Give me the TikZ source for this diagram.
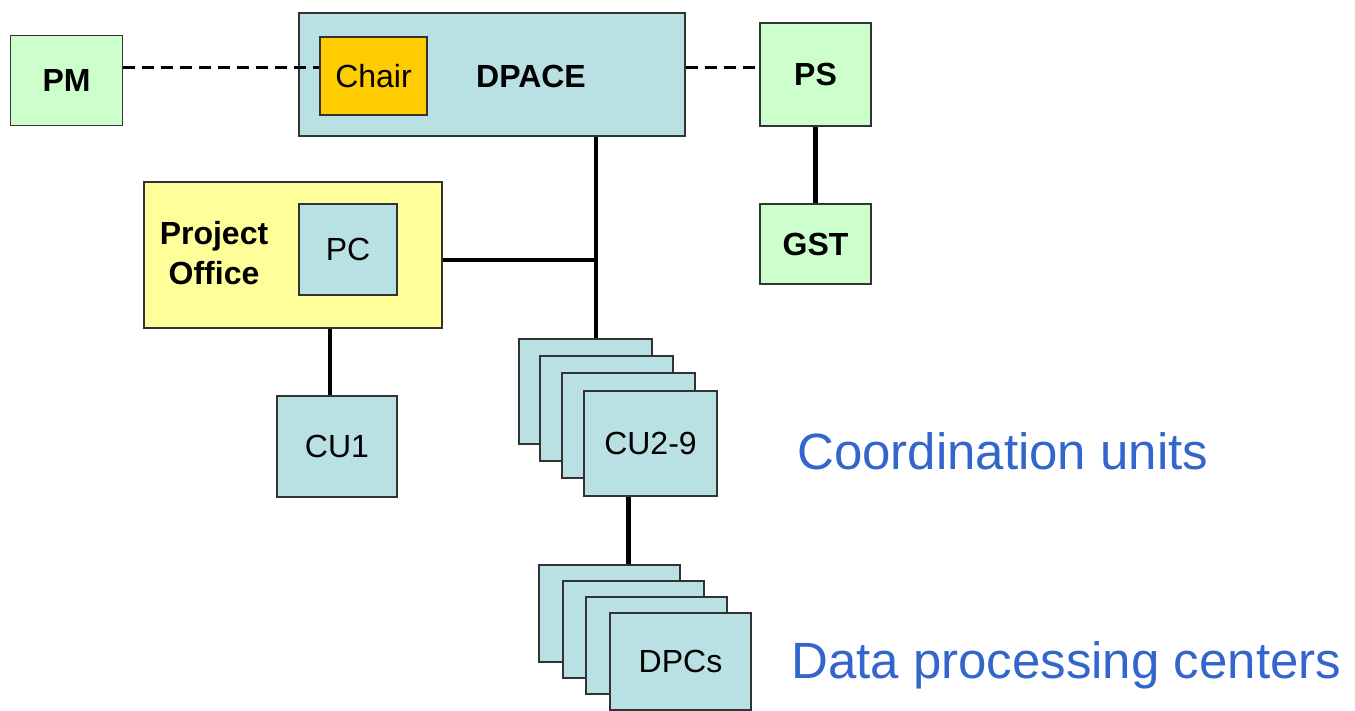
\documentclass[tikz,border=0pt]{standalone}
\usepackage{fontspec}
\setmainfont{Liberation Sans}
\usetikzlibrary{positioning}
\definecolor{custom-blue}{RGB}{185, 224, 227}
\definecolor{custom-green}{RGB}{204, 255, 204}
\definecolor{custom-yellow}{RGB}{255, 255, 153}
\definecolor{custom-orange}{RGB}{255, 204, 0}
\definecolor{custom-text}{RGB}{51, 102, 204}
\tikzset{
  box/.style={rectangle, draw=black!80, line width=1.3pt, inner sep=0pt,
    font=\fontsize{32}{40}\selectfont},
  heavy/.style={font=\fontsize{32}{40}\selectfont\bfseries},
  link/.style={line width=4.5pt},
  dashlink/.style={line width=3pt, dash pattern=on 12pt off 7pt},
  legend/.style={anchor=base west, inner sep=0pt, text=custom-text,
    font=\fontsize{51}{60}\selectfont}
}

\begin{document}
\begin{tikzpicture}[x=1pt, y=-1pt]
\useasboundingbox (0,0) rectangle (1355,711);

% top row
\node[box, heavy, fill=custom-green, minimum width=112pt, minimum height=90pt] (pm) at (66.5,80.5) {PM};
\node[box, fill=custom-blue, minimum width=386pt, minimum height=123pt] (dpace) at (492,74.5) {};
\node[box, fill=custom-orange, minimum width=107pt, minimum height=78pt] (chair) at (373.5,76) {Chair};
\node[heavy, inner sep=0pt] (dpacetext) at (531,76) {DPACE};
\node[box, heavy, fill=custom-green, minimum width=111pt, minimum height=103pt] (ps) at (815.5,74.5) {PS};
\node[box, heavy, fill=custom-green, minimum width=111pt, minimum height=80pt] (gst) at (815.5,244) {GST};

% project office
\node[box, fill=custom-yellow, minimum width=298pt, minimum height=146pt] (po) at (293,255) {};
\node[heavy, inner sep=0pt, align=center] (potext) at (214,253) {Project\\Office};
\node[box, fill=custom-blue, minimum width=98pt, minimum height=91pt] (pc) at (348,249.5) {PC};
\node[box, fill=custom-blue, minimum width=120pt, minimum height=101pt] (cuone) at (337,446.5) {CU1};

% coordination units
\node[box, fill=custom-blue, minimum width=133pt, minimum height=105pt] (cua) at (585.5,391.5) {};
\node[box, fill=custom-blue, minimum width=133pt, minimum height=105pt] (cub) at (606.5,408.5) {};
\node[box, fill=custom-blue, minimum width=133pt, minimum height=105pt] (cuc) at (628.5,425.5) {};
\node[box, fill=custom-blue, minimum width=133pt, minimum height=105pt] (cud) at (650.5,443.5) {CU2-9};

% data processing centers
\node[box, fill=custom-blue, minimum width=141pt, minimum height=97pt] (dpca) at (609.5,613.5) {};
\node[box, fill=custom-blue, minimum width=141pt, minimum height=97pt] (dpcb) at (633.5,629.5) {};
\node[box, fill=custom-blue, minimum width=141pt, minimum height=97pt] (dpcc) at (656.5,645.5) {};
\node[box, fill=custom-blue, minimum width=141pt, minimum height=97pt] (dpcd) at (680.5,661.5) {DPCs};

\node[legend] (culegend) at (797,469) {Coordination units};
\node[legend] (dpclegend) at (791,678) {Data processing centers};

% connectors
\coordinate (dashy) at (0,68);
\coordinate (trunk) at (596,260);
\draw[dashlink] (pm.east |- dashy) -- (chair.west |- dashy);
\draw[dashlink] (dpace.east |- dashy) -- (ps.west |- dashy);
\draw[link] (ps.south) -- (gst.north);
\draw[link] (dpace.south -| trunk) -- (cua.north -| trunk);
\draw[link] (po.east |- trunk) -- (trunk);
\draw[link] ([xshift=-7pt]cuone.north) -- ([xshift=-7pt]cuone.north |- po.south);
\draw[link] (cud.south -| cuc) -- (dpca.north -| cuc);
\end{tikzpicture}
\end{document}
